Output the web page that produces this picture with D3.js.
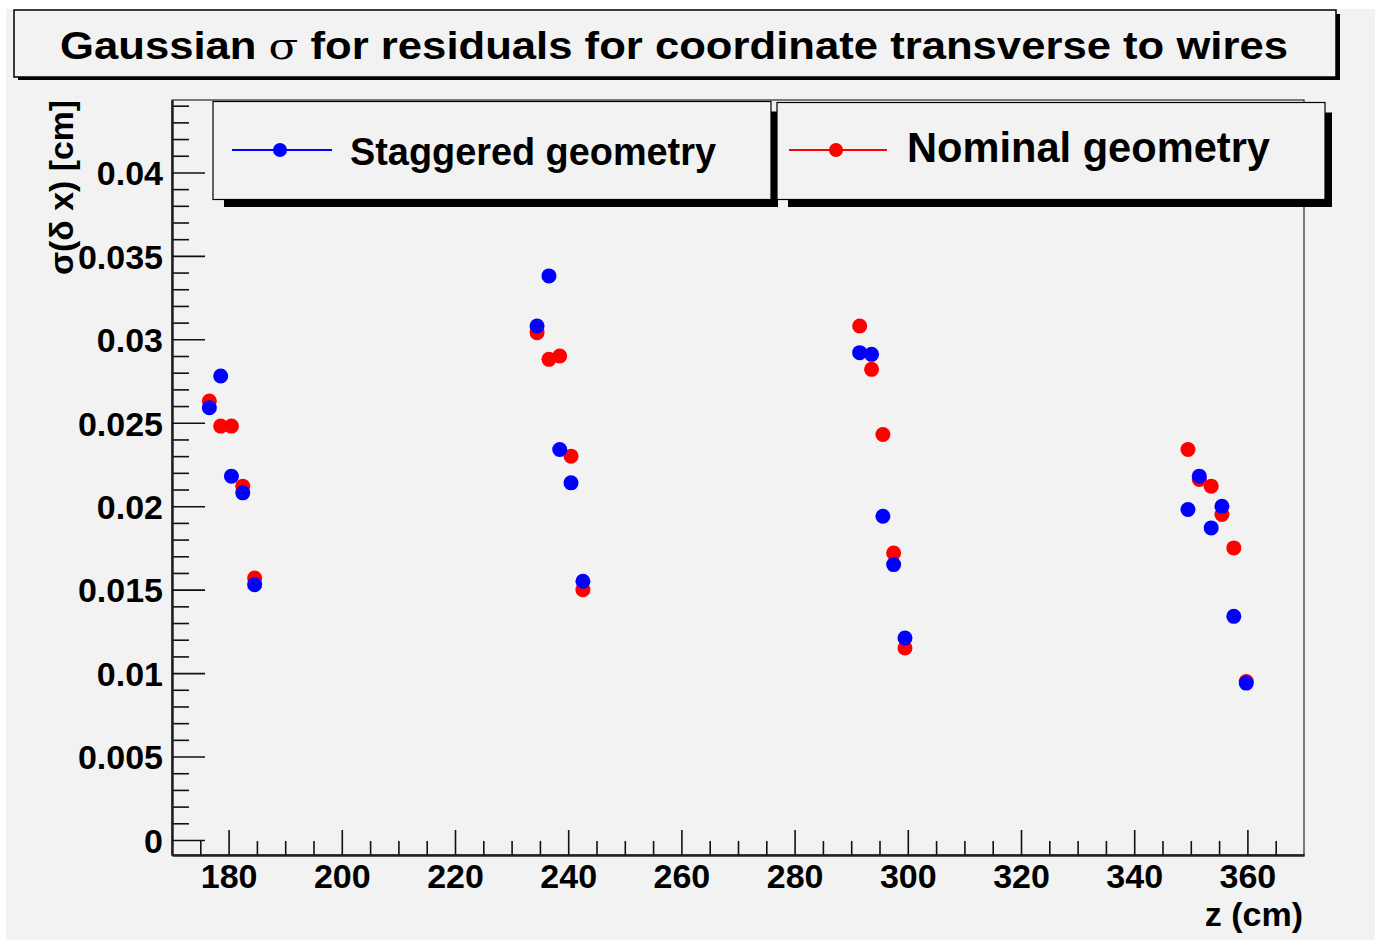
<!DOCTYPE html>
<html>
<head>
<meta charset="utf-8">
<script src="https://cdn.jsdelivr.net/npm/d3@7"></script>
<style>
  html, body { margin: 0; padding: 0; background: #ffffff; }
  svg { display: block; }
  text { font-family: "Liberation Sans", Arial, Helvetica, sans-serif; font-weight: bold; fill: #000; }
</style>
</head>
<body>
<svg id="chart" width="1375" height="943"></svg>
<script>
// z position of each measurement (cm)
const zPos = [176.6, 178.6, 180.5, 182.5, 184.6,
              234.5, 236.6, 238.5, 240.5, 242.6,
              291.5, 293.6, 295.6, 297.5, 299.5,
              349.5, 351.5, 353.6, 355.5, 357.6, 359.8];
// Gaussian sigma of the residuals (cm)
const staggered = [0.0259, 0.0278, 0.0218, 0.0208, 0.0153,
                   0.0308, 0.0338, 0.0234, 0.0214, 0.0155,
                   0.0292, 0.0291, 0.0194, 0.0165, 0.0121,
                   0.0198, 0.0218, 0.0187, 0.0200, 0.0134, 0.0094];
const nominal = [0.0263, 0.0248, 0.0248, 0.0212, 0.0157,
                 0.0304, 0.0288, 0.0290, 0.0230, 0.0150,
                 0.0308, 0.0282, 0.0243, 0.0172, 0.0115,
                 0.0234, 0.0216, 0.0212, 0.0195, 0.0175, 0.0095];
const seriesNames = ["Staggered geometry", "Nominal geometry"];
const xMajorTicks = [180, 200, 220, 240, 260, 280, 300, 320, 340, 360];
const yMajorTicks = [0, 0.005, 0.01, 0.015, 0.02, 0.025, 0.03, 0.035, 0.04];

const svg = d3.select("#chart");
const bg = "#f2f2f2";

// canvas
svg.append("rect").attr("x", 6).attr("y", 9).attr("width", 1369).attr("height", 931).attr("fill", bg);

// frame
const fx0 = 172, fx1 = 1304, fy0 = 100, fy1 = 855;
const x = d3.scaleLinear().domain([170, 370]).range([fx0, fx1]);
const y = d3.scaleLinear().domain([-0.0009, 0.04434]).range([fy1, fy0]);

svg.append("rect").attr("x", fx0).attr("y", fy0).attr("width", fx1 - fx0).attr("height", fy1 - fy0)
  .attr("fill", "none").attr("stroke", "#000").attr("stroke-width", 1);

// x axis: minor ticks every 5, major every 20
const xMinor = d3.range(175, 370, 5).filter(v => !xMajorTicks.includes(v));
const gx = svg.append("g").attr("transform", `translate(0,${fy1})`);
gx.call(d3.axisBottom(x).tickValues(xMinor).tickSizeInner(-14).tickSizeOuter(0).tickFormat(""));
gx.call(g => g.selectAll(".tick text").remove());
const gx2 = svg.append("g").attr("transform", `translate(0,${fy1})`);
gx2.call(d3.axisBottom(x).tickValues(xMajorTicks).tickSizeInner(-25).tickSizeOuter(0).tickPadding(33).tickFormat(d3.format("d")));
[gx, gx2].forEach(g => {
  g.select(".domain").attr("stroke", "#222").attr("stroke-width", 2);
  g.selectAll(".tick line").attr("stroke", "#111").attr("stroke-width", 1.6);
});
gx2.selectAll(".tick text").attr("font-size", 34).attr("dy", 0).attr("y", 33)
  .attr("font-family", "Liberation Sans, Arial, sans-serif").attr("font-weight", "bold").attr("fill", "#000");

// y axis: minor ticks every 0.001, major every 0.005
const yMinor = d3.range(1, 45).map(i => i / 1000).filter(v => v % 0.005 > 1e-9 && 0.005 - (v % 0.005) > 1e-9);
const gy = svg.append("g").attr("transform", `translate(${fx0},0)`);
gy.call(d3.axisLeft(y).tickValues(yMinor).tickSizeInner(-17).tickSizeOuter(0).tickFormat(""));
const gy2 = svg.append("g").attr("transform", `translate(${fx0},0)`);
gy2.call(d3.axisLeft(y).tickValues(yMajorTicks).tickSizeInner(-33).tickSizeOuter(0).tickPadding(9)
  .tickFormat(d => String(+d.toFixed(3))));
[gy, gy2].forEach(g => {
  g.select(".domain").attr("stroke", "#222").attr("stroke-width", 2);
  g.selectAll(".tick line").attr("stroke", "#111").attr("stroke-width", 1.6);
});
gy2.selectAll(".tick text").attr("font-size", 34).attr("dy", "0.36em")
  .attr("font-family", "Liberation Sans, Arial, sans-serif").attr("font-weight", "bold").attr("fill", "#000");

// axis titles
svg.append("text").attr("x", 1303).attr("y", 926).attr("text-anchor", "end")
  .attr("font-size", 34).text("z (cm)");
svg.append("text").attr("transform", "translate(73,100) rotate(-90)").attr("text-anchor", "end")
  .attr("font-size", 34).attr("textLength", 175).attr("lengthAdjust", "spacingAndGlyphs")
  .text("σ(δ x) [cm]");

// points: nominal first, staggered on top
const series = [
  { name: seriesNames[1], values: nominal, color: "#ff0000" },
  { name: seriesNames[0], values: staggered, color: "#0000ff" }
];
series.forEach(s => {
  svg.append("g").selectAll("circle").data(s.values).join("circle")
    .attr("cx", (d, i) => x(zPos[i])).attr("cy", d => y(d)).attr("r", 7.5)
    .attr("fill", s.color);
});

// title box with shadow
svg.append("rect").attr("x", 18).attr("y", 77).attr("width", 1322).attr("height", 3).attr("fill", "#000");
svg.append("rect").attr("x", 1336).attr("y", 14).attr("width", 4).attr("height", 66).attr("fill", "#000");
svg.append("rect").attr("x", 14).attr("y", 10).attr("width", 1322).attr("height", 67)
  .attr("fill", bg).attr("stroke", "#000").attr("stroke-width", 1.5);
const title = svg.append("text").attr("x", 674).attr("y", 59).attr("text-anchor", "middle")
  .attr("font-size", 38).attr("textLength", 1228).attr("lengthAdjust", "spacingAndGlyphs");
title.append("tspan").text("Gaussian ");
title.append("tspan").attr("font-weight", "normal").attr("font-family", "DejaVu Serif, serif").text("σ");
title.append("tspan").text(" for residuals for coordinate transverse to wires");

// legend boxes
const legendBoxes = [
  { x: 213, y: 101.5, w: 558, h: 98, line: [232, 332], mark: 280, tx: 350, ty: 165, fs: 39, tl: 366 },
  { x: 777, y: 102.5, w: 548, h: 97, line: [789, 887], mark: 836, tx: 907, ty: 162, fs: 42, tl: 363 }
];
const legendSeries = [series[1], series[0]];
legendBoxes.forEach((b, i) => {
  const s = legendSeries[i];
  const g = svg.append("g");
  g.append("rect").attr("x", b.x + 11).attr("y", b.y + b.h).attr("width", b.w - 4).attr("height", 7.5).attr("fill", "#000");
  g.append("rect").attr("x", b.x + b.w).attr("y", b.y + 10).attr("width", 7).attr("height", b.h - 2.5).attr("fill", "#000");
  g.append("rect").attr("x", b.x).attr("y", b.y).attr("width", b.w).attr("height", b.h)
    .attr("fill", bg).attr("stroke", "#000").attr("stroke-width", 1.2);
  g.append("line").attr("x1", b.line[0]).attr("x2", b.line[1]).attr("y1", 150).attr("y2", 150)
    .attr("stroke", s.color).attr("stroke-width", 2);
  g.append("circle").attr("cx", b.mark).attr("cy", 150).attr("r", 7).attr("fill", s.color);
  g.append("text").attr("x", b.tx).attr("y", b.ty).attr("font-size", b.fs)
    .attr("textLength", b.tl).attr("lengthAdjust", "spacingAndGlyphs").text(s.name);
});
</script>
</body>
</html>
